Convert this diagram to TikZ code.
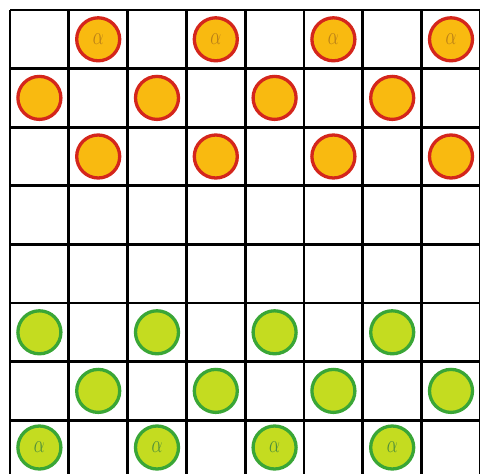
\documentclass[tikz,border=0pt]{standalone}
\usepackage{graphicx}
\definecolor{redline}{HTML}{D4261C}
\definecolor{orangefill}{HTML}{F9BA10}
\definecolor{orangetext}{HTML}{B87E18}
\definecolor{greenline}{HTML}{3AA636}
\definecolor{greenfill}{HTML}{C4DC20}
\definecolor{greentext}{HTML}{4E8E3A}
\tikzset{
  gridline/.style={line width=2.8pt, black},
  redpiece/.style={circle, draw=redline, fill=orangefill, line width=3.3pt, minimum size=43pt, inner sep=0pt},
  greenpiece/.style={circle, draw=greenline, fill=greenfill, line width=3.3pt, minimum size=43pt, inner sep=0pt},
  alphared/.style={text=orangetext},
  alphagreen/.style={text=greentext}
}
\newcommand{\myalpha}{\scalebox{1}[1.45]{\fontsize{19}{19}\selectfont$\alpha$}}
\begin{document}
\begin{tikzpicture}[x=1pt,y=-1pt]
\useasboundingbox (0,0) rectangle (480,474);
\fill[white] (0,0) rectangle (480,474);
\begin{scope}
\clip (0,0) rectangle (480,474);
\foreach \i in {0,...,8} {
  \draw[gridline] ({10+58.8*\i},10) -- ({10+58.8*\i},{10+58.6*8});
  \draw[gridline] (10,{10+58.6*\i}) -- ({10+58.8*8},{10+58.6*\i});
}
% red pieces
\foreach \r/\c in {0/1,0/3,0/5,0/7} {
  \node[redpiece, alphared] (p-\r-\c) at ({10+58.8*(\c+0.5)},{10+58.6*(\r+0.5)}) {\myalpha};
}
\foreach \r/\c in {1/0,1/2,1/4,1/6,2/1,2/3,2/5,2/7} {
  \node[redpiece] (p-\r-\c) at ({10+58.8*(\c+0.5)},{10+58.6*(\r+0.5)}) {};
}
% green pieces
\foreach \r/\c in {5/0,5/2,5/4,5/6,6/1,6/3,6/5,6/7} {
  \node[greenpiece] (p-\r-\c) at ({10+58.8*(\c+0.5)},{10+58.6*(\r+0.5)}) {};
}
\foreach \r/\c in {7/0,7/2,7/4,7/6} {
  \node[greenpiece, alphagreen] (p-\r-\c) at ({10+58.8*(\c+0.5)},{10+58.6*(\r+0.5)-2}) {\myalpha};
}
\end{scope}
\end{tikzpicture}
\end{document}
